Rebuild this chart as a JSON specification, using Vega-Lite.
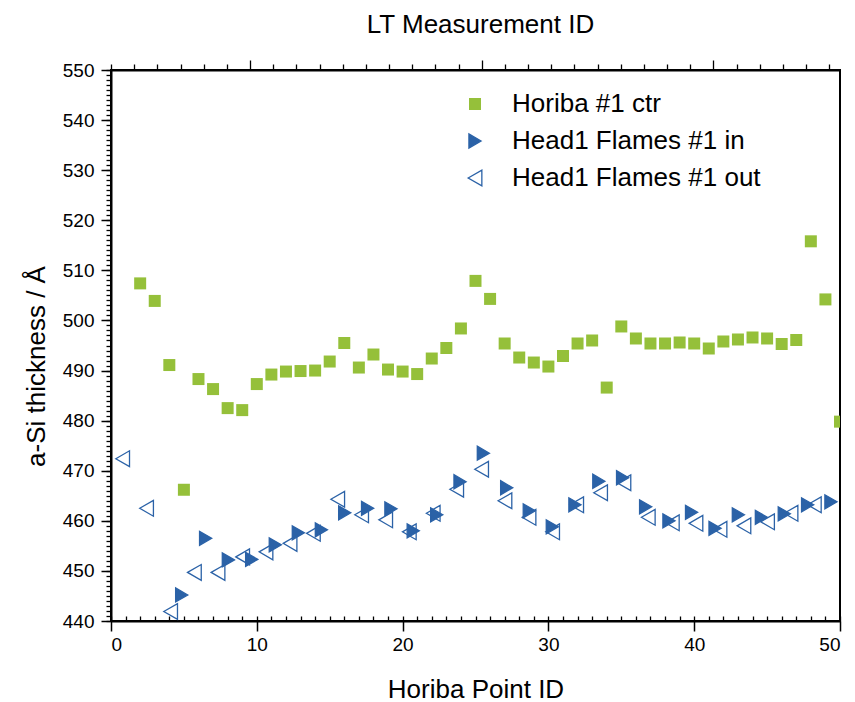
{
  "$schema": "https://vega.github.io/schema/vega-lite/v6.json",
  "width": 729,
  "height": 551,
  "autosize": {"type": "none"},
  "padding": {"left": 111, "top": 70, "right": 15, "bottom": 81},
  "background": "white",
  "config": {
    "font": "Liberation Sans",
    "view": {"stroke": "black", "strokeWidth": 2},
    "axis": {
      "grid": false,
      "domainColor": "black",
      "domainWidth": 2,
      "tickColor": "black",
      "tickWidth": 1.5,
      "labelColor": "black",
      "titleColor": "black",
      "labelFont": "Liberation Sans",
      "titleFont": "Liberation Sans",
      "labelFontSize": 19,
      "titleFontSize": 26,
      "titleFontWeight": "normal"
    },
    "legend": {
      "orient": "none",
      "legendX": 351,
      "legendY": 21,
      "labelFont": "Liberation Sans",
      "labelFontSize": 26,
      "labelColor": "black",
      "labelLimit": 0,
      "labelOffset": 24,
      "rowPadding": 11,
      "symbolStrokeWidth": 1.3,
      "padding": 0
    }
  },
  "datasets": {
    "pts": [
      {"s": "Horiba #1 ctr", "x": 2, "y": 507.4},
      {"s": "Horiba #1 ctr", "x": 3, "y": 503.9},
      {"s": "Horiba #1 ctr", "x": 4, "y": 491.1},
      {"s": "Horiba #1 ctr", "x": 5, "y": 466.2},
      {"s": "Horiba #1 ctr", "x": 6, "y": 488.3},
      {"s": "Horiba #1 ctr", "x": 7, "y": 486.3},
      {"s": "Horiba #1 ctr", "x": 8, "y": 482.5},
      {"s": "Horiba #1 ctr", "x": 9, "y": 482.1},
      {"s": "Horiba #1 ctr", "x": 10, "y": 487.3},
      {"s": "Horiba #1 ctr", "x": 11, "y": 489.2},
      {"s": "Horiba #1 ctr", "x": 12, "y": 489.8},
      {"s": "Horiba #1 ctr", "x": 13, "y": 489.9},
      {"s": "Horiba #1 ctr", "x": 14, "y": 490.0},
      {"s": "Horiba #1 ctr", "x": 15, "y": 491.8},
      {"s": "Horiba #1 ctr", "x": 16, "y": 495.5},
      {"s": "Horiba #1 ctr", "x": 17, "y": 490.6},
      {"s": "Horiba #1 ctr", "x": 18, "y": 493.2},
      {"s": "Horiba #1 ctr", "x": 19, "y": 490.2},
      {"s": "Horiba #1 ctr", "x": 20, "y": 489.8},
      {"s": "Horiba #1 ctr", "x": 21, "y": 489.3},
      {"s": "Horiba #1 ctr", "x": 22, "y": 492.4},
      {"s": "Horiba #1 ctr", "x": 23, "y": 494.5},
      {"s": "Horiba #1 ctr", "x": 24, "y": 498.4},
      {"s": "Horiba #1 ctr", "x": 25, "y": 507.9},
      {"s": "Horiba #1 ctr", "x": 26, "y": 504.3},
      {"s": "Horiba #1 ctr", "x": 27, "y": 495.4},
      {"s": "Horiba #1 ctr", "x": 28, "y": 492.6},
      {"s": "Horiba #1 ctr", "x": 29, "y": 491.6},
      {"s": "Horiba #1 ctr", "x": 30, "y": 490.8},
      {"s": "Horiba #1 ctr", "x": 31, "y": 492.9},
      {"s": "Horiba #1 ctr", "x": 32, "y": 495.4},
      {"s": "Horiba #1 ctr", "x": 33, "y": 496.0},
      {"s": "Horiba #1 ctr", "x": 34, "y": 486.6},
      {"s": "Horiba #1 ctr", "x": 35, "y": 498.8},
      {"s": "Horiba #1 ctr", "x": 36, "y": 496.4},
      {"s": "Horiba #1 ctr", "x": 37, "y": 495.4},
      {"s": "Horiba #1 ctr", "x": 38, "y": 495.4},
      {"s": "Horiba #1 ctr", "x": 39, "y": 495.6},
      {"s": "Horiba #1 ctr", "x": 40, "y": 495.4},
      {"s": "Horiba #1 ctr", "x": 41, "y": 494.4},
      {"s": "Horiba #1 ctr", "x": 42, "y": 495.8},
      {"s": "Horiba #1 ctr", "x": 43, "y": 496.2},
      {"s": "Horiba #1 ctr", "x": 44, "y": 496.6},
      {"s": "Horiba #1 ctr", "x": 45, "y": 496.4},
      {"s": "Horiba #1 ctr", "x": 46, "y": 495.3},
      {"s": "Horiba #1 ctr", "x": 47, "y": 496.1},
      {"s": "Horiba #1 ctr", "x": 48, "y": 515.8},
      {"s": "Horiba #1 ctr", "x": 49, "y": 504.2},
      {"s": "Horiba #1 ctr", "x": 50, "y": 479.8},
      {"s": "Head1 Flames #1 in", "x": 4.85, "y": 445.2},
      {"s": "Head1 Flames #1 in", "x": 6.49, "y": 456.5},
      {"s": "Head1 Flames #1 in", "x": 8.05, "y": 452.2},
      {"s": "Head1 Flames #1 in", "x": 9.65, "y": 452.3},
      {"s": "Head1 Flames #1 in", "x": 11.27, "y": 455.2},
      {"s": "Head1 Flames #1 in", "x": 12.85, "y": 457.6},
      {"s": "Head1 Flames #1 in", "x": 14.43, "y": 458.2},
      {"s": "Head1 Flames #1 in", "x": 16.03, "y": 461.6},
      {"s": "Head1 Flames #1 in", "x": 17.6, "y": 462.5},
      {"s": "Head1 Flames #1 in", "x": 19.2, "y": 462.4},
      {"s": "Head1 Flames #1 in", "x": 20.73, "y": 458.0},
      {"s": "Head1 Flames #1 in", "x": 22.34, "y": 461.2},
      {"s": "Head1 Flames #1 in", "x": 23.94, "y": 467.8},
      {"s": "Head1 Flames #1 in", "x": 25.54, "y": 473.5},
      {"s": "Head1 Flames #1 in", "x": 27.14, "y": 466.6},
      {"s": "Head1 Flames #1 in", "x": 28.69, "y": 462.0},
      {"s": "Head1 Flames #1 in", "x": 30.27, "y": 458.8},
      {"s": "Head1 Flames #1 in", "x": 31.82, "y": 463.2},
      {"s": "Head1 Flames #1 in", "x": 33.46, "y": 467.9},
      {"s": "Head1 Flames #1 in", "x": 35.09, "y": 468.6},
      {"s": "Head1 Flames #1 in", "x": 36.67, "y": 462.8},
      {"s": "Head1 Flames #1 in", "x": 38.27, "y": 460.0},
      {"s": "Head1 Flames #1 in", "x": 39.82, "y": 461.7},
      {"s": "Head1 Flames #1 in", "x": 41.43, "y": 458.5},
      {"s": "Head1 Flames #1 in", "x": 43.03, "y": 461.2},
      {"s": "Head1 Flames #1 in", "x": 44.61, "y": 460.7},
      {"s": "Head1 Flames #1 in", "x": 46.18, "y": 461.4},
      {"s": "Head1 Flames #1 in", "x": 47.78, "y": 463.2},
      {"s": "Head1 Flames #1 in", "x": 49.38, "y": 463.8},
      {"s": "Head1 Flames #1 out", "x": 0.8, "y": 472.4},
      {"s": "Head1 Flames #1 out", "x": 2.44, "y": 462.5},
      {"s": "Head1 Flames #1 out", "x": 4.09, "y": 441.9},
      {"s": "Head1 Flames #1 out", "x": 5.72, "y": 449.7},
      {"s": "Head1 Flames #1 out", "x": 7.34, "y": 449.7},
      {"s": "Head1 Flames #1 out", "x": 9.03, "y": 452.8},
      {"s": "Head1 Flames #1 out", "x": 10.63, "y": 453.8},
      {"s": "Head1 Flames #1 out", "x": 12.28, "y": 455.5},
      {"s": "Head1 Flames #1 out", "x": 13.88, "y": 457.5},
      {"s": "Head1 Flames #1 out", "x": 15.55, "y": 464.3},
      {"s": "Head1 Flames #1 out", "x": 17.19, "y": 461.2},
      {"s": "Head1 Flames #1 out", "x": 18.84, "y": 460.2},
      {"s": "Head1 Flames #1 out", "x": 20.46, "y": 457.8},
      {"s": "Head1 Flames #1 out", "x": 22.1, "y": 461.5},
      {"s": "Head1 Flames #1 out", "x": 23.71, "y": 466.3},
      {"s": "Head1 Flames #1 out", "x": 25.42, "y": 470.3},
      {"s": "Head1 Flames #1 out", "x": 27.02, "y": 464.0},
      {"s": "Head1 Flames #1 out", "x": 28.67, "y": 460.7},
      {"s": "Head1 Flames #1 out", "x": 30.29, "y": 457.8},
      {"s": "Head1 Flames #1 out", "x": 31.94, "y": 463.2},
      {"s": "Head1 Flames #1 out", "x": 33.58, "y": 465.6},
      {"s": "Head1 Flames #1 out", "x": 35.18, "y": 467.6},
      {"s": "Head1 Flames #1 out", "x": 36.85, "y": 460.7},
      {"s": "Head1 Flames #1 out", "x": 38.5, "y": 459.6},
      {"s": "Head1 Flames #1 out", "x": 40.12, "y": 459.5},
      {"s": "Head1 Flames #1 out", "x": 41.77, "y": 458.3},
      {"s": "Head1 Flames #1 out", "x": 43.41, "y": 459.0},
      {"s": "Head1 Flames #1 out", "x": 45.03, "y": 459.8},
      {"s": "Head1 Flames #1 out", "x": 46.64, "y": 461.5},
      {"s": "Head1 Flames #1 out", "x": 48.24, "y": 463.2}
    ]
  },
  "data": {"name": "pts"},
  "resolve": {"axis": {"x": "independent", "y": "independent"}},
  "layer": [
    {
      "transform": [{"filter": "datum.s === 'Horiba #1 ctr'"}],
      "mark": {"type": "point", "filled": true, "clip": true, "strokeWidth": 1.3, "opacity": 1},
      "encoding": {
        "x": {"field": "x", "type": "quantitative", "scale": {"domain": [0, 50], "nice": false, "zero": false},
          "axis": {"orient": "bottom", "values": [0, 10, 20, 30, 40, 50], "tickSize": 10, "labelPadding": 4, "title": "Horiba Point ID", "titleY": 76, "titleBaseline": "alphabetic"}},
        "y": {"field": "y", "type": "quantitative", "scale": {"domain": [440, 550], "nice": false, "zero": false},
          "axis": {"orient": "left", "values": [440, 450, 460, 470, 480, 490, 500, 510, 520, 530, 540, 550], "tickSize": 10, "labelPadding": 7, "title": "a-Si thickness / Å", "titleX": -67, "titleY": 296, "titleBaseline": "alphabetic", "titleAngle": -90}},
        "shape": {"field": "s", "type": "nominal", "title": null, "scale": {"domain": ["Horiba #1 ctr", "Head1 Flames #1 in", "Head1 Flames #1 out"], "range": ["square", "triangle-right", "triangle-left"]}},
        "fill": {"field": "s", "type": "nominal", "title": null, "scale": {"domain": ["Horiba #1 ctr", "Head1 Flames #1 in", "Head1 Flames #1 out"], "range": ["#95c03a", "#2b62a7", "transparent"]}},
        "stroke": {"field": "s", "type": "nominal", "title": null, "scale": {"domain": ["Horiba #1 ctr", "Head1 Flames #1 in", "Head1 Flames #1 out"], "range": ["transparent", "#2b62a7", "#2b62a7"]}},
        "size": {"field": "s", "type": "nominal", "title": null, "scale": {"domain": ["Horiba #1 ctr", "Head1 Flames #1 in", "Head1 Flames #1 out"], "range": [144, 250, 235]}}
      }
    },
    {
      "transform": [{"filter": "datum.s === 'Head1 Flames #1 in'"}],
      "mark": {"type": "point", "filled": true, "clip": true, "strokeWidth": 1.3, "opacity": 1},
      "encoding": {
        "x": {"field": "x", "type": "quantitative",
          "axis": {"orient": "bottom", "values": [0,1,2,3,4,5,6,7,8,9,10,11,12,13,14,15,16,17,18,19,20,21,22,23,24,25,26,27,28,29,30,31,32,33,34,35,36,37,38,39,40,41,42,43,44,45,46,47,48,49,50], "tickSize": -5, "tickWidth": 1.3, "labels": false, "domain": false, "title": null}},
        "y": {"field": "y", "type": "quantitative",
          "axis": {"orient": "left", "values": [440,441,442,443,444,445,446,447,448,449,450,451,452,453,454,455,456,457,458,459,460,461,462,463,464,465,466,467,468,469,470,471,472,473,474,475,476,477,478,479,480,481,482,483,484,485,486,487,488,489,490,491,492,493,494,495,496,497,498,499,500,501,502,503,504,505,506,507,508,509,510,511,512,513,514,515,516,517,518,519,520,521,522,523,524,525,526,527,528,529,530,531,532,533,534,535,536,537,538,539,540,541,542,543,544,545,546,547,548,549,550], "tickSize": 5, "tickWidth": 1.3, "labels": false, "domain": false, "title": null}},
        "shape": {"field": "s", "type": "nominal", "title": null},
        "fill": {"field": "s", "type": "nominal", "title": null},
        "stroke": {"field": "s", "type": "nominal", "title": null},
        "size": {"field": "s", "type": "nominal", "title": null}
      }
    },
    {
      "transform": [{"filter": "datum.s === 'Head1 Flames #1 out'"}],
      "mark": {"type": "point", "filled": true, "clip": true, "strokeWidth": 1.3, "opacity": 1},
      "encoding": {
        "x": {"field": "x", "type": "quantitative",
          "axis": {"orient": "top", "values": [0, 1.589, 3.178, 4.767, 6.356, 7.945, 9.534, 11.123, 12.712, 14.301, 15.89, 17.479, 19.068, 20.657, 22.246, 23.835, 25.424, 27.013, 28.602, 30.191, 31.78, 33.369, 34.958, 36.547, 38.136, 39.725, 41.314, 42.903, 44.492, 46.081, 47.67, 49.259],
            "tickSize": {"condition": {"test": "(datum.value > 9 && datum.value < 10) || (datum.value > 25 && datum.value < 26) || (datum.value > 41 && datum.value < 42)", "value": 10}, "value": 6},
            "tickWidth": 1.3, "labels": false, "title": "LT Measurement ID", "titleX": 369, "titleY": -38, "titleBaseline": "alphabetic"}},
        "y": {"field": "y", "type": "quantitative", "axis": null},
        "shape": {"field": "s", "type": "nominal", "title": null},
        "fill": {"field": "s", "type": "nominal", "title": null},
        "stroke": {"field": "s", "type": "nominal", "title": null},
        "size": {"field": "s", "type": "nominal", "title": null}
      }
    }
  ]
}
